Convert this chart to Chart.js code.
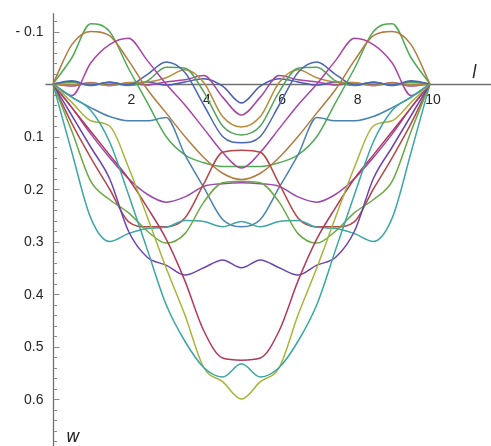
<!DOCTYPE html>
<html>
<head>
<meta charset="utf-8">
<script src="https://cdn.jsdelivr.net/npm/chart.js@4"></script>
<style>
  html, body { margin: 0; padding: 0; background: #fff; }
  #wrap { width: 491px; height: 446px; }
</style>
</head>
<body>
<div id="wrap"><canvas id="chart" width="491" height="446"></canvas></div>
<script>
// l positions shared by every curve
const lValues = [0, 0.5, 1, 1.5, 2, 2.5, 3, 3.5, 4, 4.5, 5, 5.5, 6, 6.5, 7, 7.5, 8, 8.5, 9, 9.5, 10];

// w values (positive = downwards)
const dipBlueSmall = [0, -0.005, 0.003, -0.004, 0.002, -0.004, 0.002, -0.004, -0.01, 0.004, 0.036, 0.004, -0.01, -0.004, 0.002, -0.004, 0.002, -0.004, 0.003, -0.005, 0];
const dipMagenta   = [0, 0.004, -0.003, 0.003, -0.002, 0.002, -0.004, -0.008, -0.016, 0.025, 0.059, 0.025, -0.016, -0.008, -0.004, 0.002, -0.002, 0.003, -0.003, 0.004, 0];
const dipOrange    = [0, 0.002, -0.002, 0.003, -0.003, -0.004, -0.012, -0.027, -0.003, 0.062, 0.082, 0.062, -0.003, -0.027, -0.012, -0.004, -0.003, 0.003, -0.002, 0.002, 0];
const dipGreen     = [0, -0.003, 0.002, -0.003, 0.003, -0.006, -0.032, -0.03, 0.015, 0.08, 0.097, 0.08, 0.015, -0.03, -0.032, -0.006, 0.003, -0.003, 0.002, -0.003, 0];
const dipBlue      = [0, -0.006, 0.002, -0.003, 0.002, -0.018, -0.042, -0.022, 0.04, 0.1, 0.112, 0.1, 0.04, -0.022, -0.042, -0.018, 0.002, -0.003, 0.002, -0.006, 0];
const humpGreen    = [0, -0.05, -0.115, -0.1, -0.03, 0.035, 0.1, 0.135, 0.15, 0.157, 0.157, 0.157, 0.15, 0.135, 0.1, 0.035, -0.03, -0.1, -0.115, -0.05, 0];
const humpOrange   = [0, -0.075, -0.1, -0.092, -0.045, 0.01, 0.055, 0.1, 0.14, 0.17, 0.182, 0.17, 0.14, 0.1, 0.055, 0.01, -0.045, -0.092, -0.1, -0.075, 0];
const humpMagenta  = [0, 0.022, -0.04, -0.075, -0.087, -0.045, 0, 0.04, 0.085, 0.13, 0.16, 0.13, 0.085, 0.04, 0, -0.045, -0.087, -0.075, -0.04, 0.022, 0];
const shelfBlue    = [0, 0.025, 0.045, 0.062, 0.07, 0.07, 0.064, 0.135, 0.197, 0.258, 0.272, 0.258, 0.197, 0.135, 0.064, 0.07, 0.07, 0.062, 0.045, 0.025, 0];
const tealWave     = [0, 0.13, 0.255, 0.3, 0.285, 0.275, 0.273, 0.26, 0.262, 0.272, 0.262, 0.272, 0.262, 0.26, 0.273, 0.275, 0.285, 0.3, 0.255, 0.13, 0];
const redTop       = [0, 0.075, 0.14, 0.2, 0.262, 0.272, 0.272, 0.255, 0.19, 0.13, 0.126, 0.13, 0.19, 0.255, 0.272, 0.272, 0.262, 0.2, 0.14, 0.075, 0];
const redDeep      = [0, 0.045, 0.09, 0.135, 0.18, 0.235, 0.295, 0.375, 0.47, 0.522, 0.526, 0.522, 0.47, 0.375, 0.295, 0.235, 0.18, 0.135, 0.09, 0.045, 0];
const magentaWave  = [0, 0.045, 0.095, 0.14, 0.18, 0.21, 0.225, 0.215, 0.195, 0.19, 0.188, 0.19, 0.195, 0.215, 0.225, 0.21, 0.18, 0.14, 0.095, 0.045, 0];
const purpleWave   = [0, 0.06, 0.12, 0.18, 0.28, 0.33, 0.345, 0.364, 0.35, 0.335, 0.35, 0.335, 0.35, 0.364, 0.345, 0.33, 0.28, 0.18, 0.12, 0.06, 0];
const greenWave    = [0, 0.09, 0.185, 0.22, 0.245, 0.28, 0.303, 0.285, 0.225, 0.188, 0.185, 0.188, 0.225, 0.285, 0.303, 0.28, 0.245, 0.22, 0.185, 0.09, 0];
const oliveVee     = [0, 0.035, 0.07, 0.08, 0.158, 0.253, 0.35, 0.44, 0.54, 0.567, 0.6, 0.567, 0.54, 0.44, 0.35, 0.253, 0.158, 0.08, 0.07, 0.035, 0];
const tealVee      = [0, 0.025, 0.05, 0.11, 0.21, 0.315, 0.42, 0.49, 0.54, 0.558, 0.533, 0.558, 0.54, 0.49, 0.42, 0.315, 0.21, 0.11, 0.05, 0.025, 0];

const xTicks = [2, 4, 6, 8, 10];
const yTicks = [-0.1, 0.1, 0.2, 0.3, 0.4, 0.5, 0.6];

const curves = [
    { data: tealVee, color: '#3aa6a2' },
    { data: oliveVee, color: '#a9b43c' },
    { data: redDeep, color: '#b03a5c' },
    { data: purpleWave, color: '#6b44b0' },
    { data: greenWave, color: '#6aa843' },
    { data: tealWave, color: '#40a5a5' },
    { data: redTop, color: '#b5474a' },
    { data: magentaWave, color: '#9b48ad' },
    { data: shelfBlue, color: '#4a82b2' },
    { data: humpMagenta, color: '#a845a5' },
    { data: humpOrange, color: '#b27b3e' },
    { data: humpGreen, color: '#50aa56' },
    { data: dipBlue, color: '#4a66b4' },
    { data: dipGreen, color: '#57a35c' },
    { data: dipOrange, color: '#b88c3a' },
    { data: dipMagenta, color: '#a4469f' },
    { data: dipBlueSmall, color: '#4659b2' },
];

const axesPlugin = {
    id: 'mathAxes',
    beforeDatasetsDraw(chart) {
        const { ctx, scales: { x, y } } = chart;
        const x0 = Math.round(x.getPixelForValue(0)) + 0.5;
        const y0 = Math.round(y.getPixelForValue(0)) + 0.5;
        ctx.save();
        ctx.strokeStyle = '#6f6f6f';
        ctx.lineWidth = 1.3;
        ctx.beginPath();
        ctx.moveTo(x.getPixelForValue(-0.2), y0);
        ctx.lineTo(chart.width, y0);
        ctx.moveTo(x0, y.getPixelForValue(-0.135));
        ctx.lineTo(x0, chart.height);
        ctx.stroke();

        // y ticks: minor every 0.02, major every 0.1
        ctx.lineWidth = 1;
        ctx.strokeStyle = '#8a8a8a';
        ctx.beginPath();
        for (let k = -6; k <= 34; k++) {
            const py = Math.round(y.getPixelForValue(k * 0.02)) + 0.5;
            const len = k % 5 === 0 ? 6 : 3.5;
            ctx.moveTo(x0, py);
            ctx.lineTo(x0 + len, py);
        }
        ctx.stroke();

        ctx.fillStyle = '#262626';
        ctx.font = '14px "Liberation Sans", Arial, sans-serif';
        ctx.textAlign = 'right';
        ctx.textBaseline = 'middle';
        yTicks.forEach(v => {
            const label = v < 0 ? '- ' + Math.abs(v).toFixed(1) : v.toFixed(1);
            ctx.fillText(label, x0 - 10, y.getPixelForValue(v) + 1);
        });
        ctx.textAlign = 'center';
        ctx.textBaseline = 'top';
        xTicks.forEach(v => {
            ctx.fillText(String(v), x.getPixelForValue(v) + 3, y0 + 9);
        });

        ctx.font = 'italic 17px "DejaVu Sans", sans-serif';
        ctx.textAlign = 'left';
        ctx.textBaseline = 'alphabetic';
        ctx.fillText('l', 472, 78);
        ctx.fillText('w', 66, 442);
        ctx.restore();
    }
};

new Chart(document.getElementById('chart'), {
    type: 'line',
    data: {
        datasets: curves.map(c => ({
            data: lValues.map((l, i) => ({ x: l, y: c.data[i] })),
            borderColor: c.color,
            borderWidth: 1.5,
            pointRadius: 0,
            fill: false,
            cubicInterpolationMode: 'monotone',
        }))
    },
    options: {
        responsive: false,
        animation: false,
        devicePixelRatio: 1,
        layout: { padding: 0 },
        scales: {
            x: { type: 'linear', display: false, min: -1.406, max: 11.62 },
            y: { type: 'linear', display: false, reverse: true, min: -0.16, max: 0.6895 }
        },
        plugins: {
            legend: { display: false },
            tooltip: { enabled: false }
        }
    },
    plugins: [axesPlugin]
});
</script>
</body>
</html>
